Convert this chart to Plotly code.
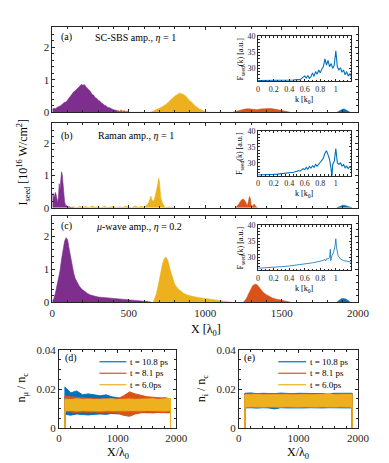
import plotly.graph_objects as go

# colours (MATLAB default order)
BLUE = '#0072BD'
ORANGE = '#D95319'
YELLOW = '#EDB120'
PURPLE = '#7E2F8E'
AX = '#262626'
FONT = 'Liberation Serif'

# ---- panel (a): SC-SBS amplification ----
a_purple_x = [0, 10, 20, 30, 40, 50, 60, 70, 80, 90, 100, 110, 120, 130, 140, 150, 160, 170, 180, 190,
              200, 210, 220, 230, 240, 250, 260, 270, 280, 290, 300, 310, 320, 330, 340, 350, 360, 370,
              380, 390, 400, 410, 420, 430, 440, 450, 460]
a_purple_y = [0.10, 0.13, 0.11, 0.15, 0.18, 0.19, 0.23, 0.26, 0.31, 0.32, 0.39, 0.44, 0.51, 0.56, 0.63, 0.66,
              0.73, 0.76, 0.81, 0.86, 0.83, 0.85, 0.79, 0.75, 0.69, 0.63, 0.55, 0.53, 0.45, 0.43, 0.37, 0.35,
              0.29, 0.27, 0.22, 0.21, 0.16, 0.15, 0.12, 0.11, 0.08, 0.07, 0.05, 0.04, 0.03, 0.02, 0.0]
a_orange_x = [420, 430, 440, 450, 460, 470, 480, 490, 500,
              1180, 1200, 1220, 1240, 1260, 1280, 1300, 1320, 1340, 1360, 1380, 1400, 1420, 1440, 1460,
              1480, 1500, 1520, 1540, 1560]
a_orange_y = [0.0, 0.05, 0.02, 0.08, 0.03, 0.06, 0.02, 0.04, 0.0,
              0.0, 0.03, 0.06, 0.09, 0.10, 0.11, 0.10, 0.09, 0.08, 0.10, 0.11, 0.12, 0.12, 0.11, 0.10,
              0.08, 0.06, 0.04, 0.02, 0.0]
a_yellow_x = [640, 650, 660, 670, 680, 690, 700, 710, 720, 730, 740, 750, 760, 770, 780, 790, 800, 810,
              820, 830, 840, 850, 860, 870, 880, 890, 900, 910, 920, 930, 940, 950, 960, 970, 980, 990,
              1000, 1010, 1020]
a_yellow_y = [0.0, 0.02, 0.04, 0.05, 0.08, 0.09, 0.12, 0.15, 0.17, 0.21, 0.23, 0.28, 0.31, 0.37, 0.40, 0.46,
              0.49, 0.53, 0.55, 0.59, 0.58, 0.57, 0.54, 0.51, 0.45, 0.42, 0.35, 0.32, 0.26, 0.23, 0.17, 0.15,
              0.10, 0.09, 0.05, 0.04, 0.02, 0.01, 0.0]
a_blue_x = [1860, 1870, 1880, 1890, 1900, 1910, 1920, 1930, 1940, 1950]
a_blue_y = [0.0, 0.03, 0.06, 0.09, 0.10, 0.10, 0.08, 0.05, 0.02, 0.0]

# ---- panel (b): Raman amplification ----
b_purple_x = [0, 5, 10, 15, 20, 25, 30, 35, 40, 45, 50, 55, 60, 65, 70, 75, 80, 85, 90, 95, 100, 110,
              120, 130, 140]
b_purple_y = [0.42, 0.45, 0.30, 0.36, 0.48, 0.40, 0.20, 0.16, 0.35, 0.75, 0.55, 0.95, 1.12, 1.02, 0.62,
              0.35, 0.20, 0.10, 0.05, 0.08, 0.02, 0.04, 0.01, 0.02, 0.0]
b_yellow_x = [120, 140, 160, 180, 200, 220, 240, 260, 280, 300, 320, 340, 360, 380, 400, 420, 440, 460,
              480, 500, 520, 540, 560, 580, 600, 610, 620, 630, 640, 645, 650, 660, 670, 680, 690, 695,
              700, 705, 710, 720, 730, 740, 760, 780, 800]
b_yellow_y = [0.0, 0.03, 0.0, 0.05, 0.01, 0.04, 0.0, 0.06, 0.02, 0.03, 0.0, 0.05, 0.01, 0.02, 0.04, 0.0,
              0.03, 0.01, 0.05, 0.02, 0.0, 0.06, 0.02, 0.04, 0.03, 0.06, 0.09, 0.16, 0.30, 0.36, 0.27,
              0.19, 0.30, 0.50, 0.74, 0.92, 0.84, 0.55, 0.30, 0.15, 0.08, 0.0, 0.03, 0.01, 0.0]
b_orange_x = [1200, 1210, 1220, 1230, 1240, 1250, 1260, 1270, 1275, 1280, 1290, 1295, 1300, 1310, 1320,
              1330, 1340]
b_orange_y = [0.0, 0.05, 0.12, 0.20, 0.26, 0.27, 0.22, 0.12, 0.05, 0.15, 0.35, 0.30, 0.10, 0.05, 0.12,
              0.05, 0.0]
b_blue_x = [1860, 1870, 1880, 1890, 1900, 1910, 1920, 1930, 1940, 1950, 1960]
b_blue_y = [0.0, 0.02, 0.05, 0.07, 0.08, 0.08, 0.07, 0.06, 0.04, 0.02, 0.0]

# ---- panel (c): mu-wave amplification ----
c_purple_x = [0, 10, 20, 30, 40, 50, 60, 70, 80, 90, 100, 110, 120, 130, 140, 150, 160, 175, 190, 210,
              230, 250, 270, 300, 350, 400, 450, 500, 550, 600, 630, 650]
c_purple_y = [0.05, 0.12, 0.28, 0.48, 0.70, 0.95, 1.30, 1.60, 1.85, 1.96, 1.90, 1.62, 1.35, 1.08, 0.88,
              0.72, 0.62, 0.50, 0.41, 0.33, 0.27, 0.22, 0.19, 0.16, 0.14, 0.12, 0.10, 0.08, 0.07, 0.04,
              0.02, 0.0]
c_yellow_x = [660, 670, 680, 690, 700, 710, 720, 730, 740, 750, 760, 770, 780, 790, 800, 820, 840, 860,
              880, 900, 950, 1000, 1050, 1100, 1150, 1180]
c_yellow_y = [0.0, 0.10, 0.25, 0.45, 0.70, 0.95, 1.15, 1.30, 1.37, 1.33, 1.20, 1.00, 0.82, 0.66, 0.55,
              0.42, 0.33, 0.27, 0.23, 0.20, 0.15, 0.11, 0.08, 0.05, 0.02, 0.0]
c_orange_x = [1250, 1260, 1270, 1280, 1290, 1300, 1310, 1320, 1330, 1340, 1350, 1360, 1380, 1400, 1420,
              1440, 1460, 1480, 1500, 1520, 1540, 1560]
c_orange_y = [0.0, 0.05, 0.12, 0.22, 0.33, 0.43, 0.50, 0.54, 0.55, 0.53, 0.47, 0.40, 0.30, 0.23, 0.17,
              0.13, 0.10, 0.08, 0.06, 0.04, 0.02, 0.0]
c_blue_x = [1860, 1870, 1880, 1890, 1900, 1910, 1920, 1930, 1940, 1950]
c_blue_y = [0.0, 0.04, 0.08, 0.11, 0.12, 0.12, 0.10, 0.07, 0.03, 0.0]

# ---- insets: seed spectra ----
ia_k = [0.0, 0.05, 0.1, 0.15, 0.2, 0.25, 0.3, 0.35, 0.4, 0.45, 0.5, 0.52, 0.54, 0.56, 0.58, 0.6, 0.62,
        0.64, 0.66, 0.68, 0.7, 0.72, 0.74, 0.76, 0.78, 0.8, 0.82, 0.84, 0.86, 0.88, 0.9, 0.92, 0.94,
        0.96, 0.98, 1.0, 1.02, 1.04, 1.06, 1.08, 1.1, 1.12, 1.14, 1.16, 1.18, 1.2]
ia_f = [26.2, 26.2, 26.2, 26.2, 26.2, 26.25, 26.3, 26.3, 26.35, 26.4, 26.5, 26.6, 26.5, 26.9, 27.2, 27.6,
        27.0, 27.8, 26.9, 27.4, 28.6, 27.5, 29.0, 28.2, 29.5, 28.6, 29.8, 30.5, 33.0, 31.0, 32.5, 30.5,
        31.5, 30.0, 31.0, 35.5, 30.5, 29.5, 30.2, 28.8, 29.5, 28.0, 29.0, 27.6, 28.4, 27.5]
ib_k = [0.0, 0.05, 0.1, 0.15, 0.2, 0.25, 0.3, 0.35, 0.4, 0.42, 0.44, 0.46, 0.48, 0.5, 0.52, 0.54, 0.56,
        0.58, 0.6, 0.62, 0.64, 0.66, 0.68, 0.7, 0.72, 0.74, 0.76, 0.78, 0.8, 0.82, 0.84, 0.86, 0.88,
        0.9, 0.92, 0.94, 0.95, 0.96, 0.98, 1.0, 1.02, 1.04, 1.06, 1.08, 1.1, 1.12, 1.14, 1.16, 1.18, 1.2]
ib_f = [26.2, 26.2, 26.3, 26.3, 26.4, 26.5, 26.6, 26.7, 26.8, 26.9, 27.0, 27.1, 27.3, 27.3, 27.6, 27.4,
        27.8, 28.2, 27.9, 28.6, 28.0, 28.9, 28.4, 29.1, 28.6, 29.5, 29.0, 29.8, 30.2, 30.8, 31.5, 33.0,
        33.8, 32.5, 31.0, 28.0, 25.5, 29.5, 30.5, 34.5, 30.0, 29.5, 30.0, 29.0, 29.5, 28.5, 29.0, 28.2,
        28.8, 28.5]
ic_k = [0.0, 0.1, 0.2, 0.3, 0.4, 0.5, 0.6, 0.7, 0.8, 0.86, 0.87, 0.88, 0.9, 0.92, 0.93, 0.935, 0.95,
        0.97, 0.99, 1.0, 1.01, 1.03, 1.06, 1.1, 1.2]
ic_f = [26.6, 26.7, 26.9, 27.1, 27.3, 27.6, 27.9, 28.3, 28.8, 29.3, 28.9, 29.6, 29.5, 30.0, 32.5, 29.0,
        30.5, 31.5, 33.5, 35.8, 33.0, 30.5, 29.5, 29.0, 28.5]

# ---- panels (d), (e): density bands ----
band_x = [100, 100, 200, 300, 400, 500, 600, 700, 800, 900, 1000, 1100, 1200, 1300, 1400, 1500, 1600,
          1700, 1800, 1900, 1900]
d_blue_hi = [0.0, 0.021, 0.018, 0.019, 0.017, 0.0175, 0.017, 0.0165, 0.017, 0.016, 0.0155, 0.015, 0.0155,
             0.015, 0.015, 0.0155, 0.015, 0.015, 0.0155, 0.015, 0.0]
d_blue_lo = [0.0, 0.007, 0.0066, 0.0072, 0.0069, 0.0067, 0.007, 0.0072, 0.007, 0.0075, 0.0072, 0.0078,
             0.008, 0.0077, 0.008, 0.0078, 0.008, 0.0079, 0.008, 0.0078, 0.0]
d_orange_hi = [0.0, 0.0165, 0.016, 0.0158, 0.0155, 0.015, 0.0152, 0.0148, 0.015, 0.0145, 0.015, 0.0165,
               0.0185, 0.0175, 0.0168, 0.016, 0.0158, 0.0155, 0.0152, 0.015, 0.0]
d_orange_lo = [0.0, 0.0085, 0.0082, 0.008, 0.0082, 0.008, 0.0082, 0.008, 0.0078, 0.008, 0.0075, 0.0065,
               0.006, 0.0072, 0.0078, 0.008, 0.0077, 0.008, 0.008, 0.008, 0.0]
d_yellow_hi = [0.0, 0.0148, 0.0146, 0.015, 0.0147, 0.0149, 0.0146, 0.0148, 0.0147, 0.015, 0.0146, 0.0148,
               0.0149, 0.0147, 0.0148, 0.0146, 0.015, 0.0147, 0.0149, 0.0152, 0.0]
d_yellow_lo = [0.0, 0.0088, 0.009, 0.0087, 0.0089, 0.0088, 0.009, 0.0087, 0.0089, 0.0088, 0.009, 0.0088,
               0.0089, 0.0087, 0.0088, 0.009, 0.0088, 0.0089, 0.0087, 0.0088, 0.0]
e_blue_hi = [0.0, 0.0178, 0.018, 0.0176, 0.0178, 0.0177, 0.0176, 0.0179, 0.0177, 0.0176, 0.0178, 0.0177,
             0.0176, 0.0178, 0.0177, 0.0176, 0.0178, 0.0177, 0.0176, 0.0178, 0.0]
e_blue_lo = [0.0, 0.0103, 0.0104, 0.0102, 0.0104, 0.0103, 0.0098, 0.0104, 0.0103, 0.0102, 0.0104, 0.0103,
             0.0104, 0.0102, 0.0103, 0.0104, 0.0103, 0.0102, 0.0104, 0.0103, 0.0]
e_orange_hi = [0.0, 0.0175, 0.0176, 0.0174, 0.0175, 0.0176, 0.0174, 0.0175, 0.0176, 0.0174, 0.0175, 0.0176,
               0.0174, 0.0175, 0.0176, 0.0174, 0.0175, 0.0176, 0.0174, 0.0175, 0.0]
e_orange_lo = [0.0, 0.0105, 0.0106, 0.0104, 0.0105, 0.0106, 0.0104, 0.0105, 0.0106, 0.0104, 0.0105, 0.0106,
               0.0104, 0.0105, 0.0106, 0.0104, 0.0105, 0.0106, 0.0104, 0.0105, 0.0]
e_yellow_hi = [0.0, 0.0171, 0.017, 0.0172, 0.017, 0.0171, 0.0172, 0.017, 0.0171, 0.017, 0.0172, 0.0171,
               0.017, 0.0171, 0.0172, 0.0178, 0.017, 0.0171, 0.017, 0.0172, 0.0]
e_yellow_lo = [0.0, 0.0108, 0.0109, 0.0107, 0.0108, 0.0109, 0.0107, 0.0108, 0.0109, 0.0107, 0.0108, 0.0109,
               0.0107, 0.0108, 0.0109, 0.0107, 0.0108, 0.0109, 0.0107, 0.0108, 0.0]
band_names = ['t = 10.8 ps', 't = 8.1 ps', 't = 6.0ps']

W, H = 389, 463


def px_x(a, b):
    return [a / W, b / W]


def px_y(top, bottom):
    return [1 - bottom / H, 1 - top / H]


fig = go.Figure()


def area(x, y, color, ax):
    fig.add_trace(go.Scatter(x=x, y=y, mode='lines', fill='tozeroy', fillcolor=color,
                             line=dict(color=color, width=0.6), xaxis='x' + ax, yaxis='y' + ax,
                             showlegend=False, hoverinfo='skip'))


for ax, sets in [('', [(a_purple_x, a_purple_y, PURPLE), (a_orange_x, a_orange_y, ORANGE),
                       (a_yellow_x, a_yellow_y, YELLOW), (a_blue_x, a_blue_y, BLUE)]),
                 ('2', [(b_purple_x, b_purple_y, PURPLE), (b_yellow_x, b_yellow_y, YELLOW),
                        (b_orange_x, b_orange_y, ORANGE), (b_blue_x, b_blue_y, BLUE)]),
                 ('3', [(c_purple_x, c_purple_y, PURPLE), (c_yellow_x, c_yellow_y, YELLOW),
                        (c_orange_x, c_orange_y, ORANGE), (c_blue_x, c_blue_y, BLUE)])]:
    for x, y, col in sets:
        area(x, y, col, ax)

for ax, k, f, w in [('4', ia_k, ia_f, 1.1), ('5', ib_k, ib_f, 1.1), ('6', ic_k, ic_f, 0.8)]:
    fig.add_trace(go.Scatter(x=k, y=f, mode='lines', line=dict(color=BLUE, width=w),
                             xaxis='x' + ax, yaxis='y' + ax, showlegend=False, cliponaxis=True))

for ax, bands in [('7', [(d_blue_hi, d_blue_lo), (d_orange_hi, d_orange_lo), (d_yellow_hi, d_yellow_lo)]),
                  ('8', [(e_blue_hi, e_blue_lo), (e_orange_hi, e_orange_lo), (e_yellow_hi, e_yellow_lo)])]:
    for (hi, lo), col in zip(bands, [BLUE, ORANGE, YELLOW]):
        fig.add_trace(go.Scatter(x=band_x, y=hi, mode='lines', line=dict(color=col, width=1),
                                 showlegend=False, xaxis='x' + ax, yaxis='y' + ax))
        fig.add_trace(go.Scatter(x=band_x, y=lo, mode='lines', line=dict(color=col, width=1),
                                 fill='tonexty', fillcolor=col, showlegend=False,
                                 xaxis='x' + ax, yaxis='y' + ax))


def axis(domain, rng, anchor, size=11, **kw):
    d = dict(domain=domain, range=rng, anchor=anchor, showline=True, mirror='ticks',
             linecolor=AX, linewidth=1, ticks='inside', ticklen=3, tickcolor=AX,
             showgrid=False, zeroline=False, tickfont=dict(family=FONT, size=size, color=AX))
    d.update(kw)
    return d


main_x = px_x(43, 361)
tops = [(13, 101), (112, 199), (207, 296)]
ins_x = px_x(257, 354)
ins_tops = [(23, 69), (120, 166), (217, 263)]
lay = {}
for i, (t, b) in enumerate(tops):
    s = '' if i == 0 else str(i + 1)
    lay['xaxis' + s] = axis(main_x, [0, 2000], 'y' + s, dtick=500, showticklabels=(i == 2),
                            minor=dict(dtick=100, ticks='inside', ticklen=2, tickcolor=AX))
    lay['yaxis' + s] = axis(px_y(t, b), [0, 2.63], 'x' + s, tickvals=[0, 1, 2],
                            minor=dict(dtick=0.2, ticks='inside', ticklen=2, tickcolor=AX))
for i, (t, b) in enumerate(ins_tops):
    s = str(i + 4)
    lay['xaxis' + s] = axis(ins_x, [0, 1.2], 'y' + s, size=8, ticklen=2,
                            tickvals=[0, 0.2, 0.4, 0.6, 0.8, 1],
                            minor=dict(dtick=0.05, ticks='inside', ticklen=1.5, tickcolor=AX))
    lay['yaxis' + s] = axis(px_y(t, b), [26, 40], 'x' + s, size=8, ticklen=2,
                            tickvals=[30, 35, 40],
                            minor=dict(dtick=1, ticks='inside', ticklen=1.5, tickcolor=AX))
for s, (l, r) in [('7', (50, 172)), ('8', (237, 361))]:
    lay['xaxis' + s] = axis(px_x(l, r), [0, 2000], 'y' + s, tickvals=[0, 1000, 2000],
                            minor=dict(dtick=200, ticks='inside', ticklen=2, tickcolor=AX))
    lay['yaxis' + s] = axis(px_y(345, 425), [0, 0.04], 'x' + s, tickvals=[0, 0.02, 0.04],
                            ticktext=['0', '0.02', '0.04'],
                            minor=dict(dtick=0.005, ticks='inside', ticklen=2, tickcolor=AX))

fig.update_layout(**lay)


def note(text, x, y, size=10, angle=0, xanchor='center'):
    fig.add_annotation(text=text, x=x / W, y=1 - y / H, xref='paper', yref='paper',
                       showarrow=False, textangle=angle, xanchor=xanchor, yanchor='middle',
                       font=dict(family=FONT, size=size, color='black'))


note('(a)', 50, 24, xanchor='left')
note('SC-SBS amp., <i>η</i> = 1', 129, 24)
note('(b)', 50, 125, xanchor='left')
note('Raman amp., <i>η</i> = 1', 130, 125)
note('(c)', 50, 218, xanchor='left')
note('<i>μ</i>-wave amp., <i>η</i> = 0.2', 133, 218)
note('I<sub>seed</sub> [10<sup>16</sup> W/cm<sup>2</sup>]', 13, 152, size=12, angle=-90)
note('X [λ<sub>0</sub>]', 203, 324, size=12)
for t, b in ins_tops:
    note('F<sub>seed</sub>(k) [a.u.]', 239, (t + b) / 2, size=8, angle=-90)
    note('k [k<sub>0</sub>]', 305, b + 19, size=8)
note('(d)', 54, 353, xanchor='left')
note('(e)', 240, 353, xanchor='left')
note('n<sub>μ</sub> / n<sub>c</sub>', 12, 384, size=12, angle=-90)
note('n<sub>i</sub> / n<sub>c</sub>', 199, 384, size=12, angle=-90)
note('X/λ<sub>0</sub>', 111, 451, size=12)
note('X/λ<sub>0</sub>', 299, 451, size=12)

# hand-placed legends (line sample + label) inside panels (d) and (e)
for x0, x1 in [(92, 120), (278, 307)]:
    for row, (name, col) in enumerate(zip(band_names, [BLUE, ORANGE, YELLOW])):
        yy = 357 + 11.8 * row
        fig.add_shape(type='line', xref='paper', yref='paper', x0=x0 / W, x1=x1 / W,
                      y0=1 - yy / H, y1=1 - yy / H, line=dict(color=col, width=1.2))
        note(name, x1 + 2, yy, size=9, xanchor='left')

fig.update_layout(
    width=W, height=H, margin=dict(l=0, r=0, t=0, b=0),
    paper_bgcolor='white', plot_bgcolor='white', showlegend=False,
)

fig.write_html("out.html")
